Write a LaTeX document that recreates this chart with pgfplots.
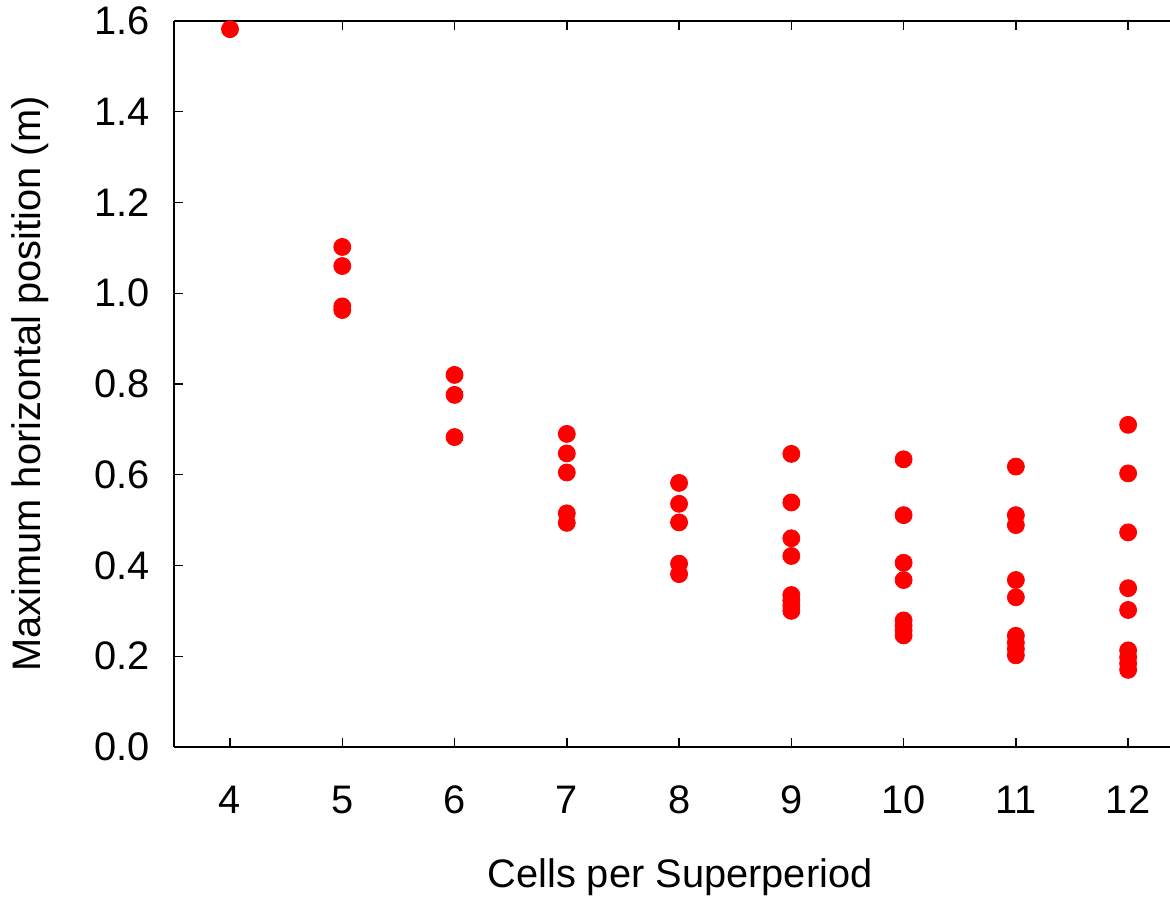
\documentclass[border=0pt]{standalone}
\usepackage{fontspec}
\setmainfont{Liberation Sans}
\usepackage{pgfplots}
\pgfplotsset{compat=1.18}
\begin{document}
\begin{tikzpicture}
\begin{axis}[
  scale only axis,
  width=498pt, height=363pt,
  xmin=3.501, xmax=12.373,
  ymin=0, ymax=1.6,
  axis x line=box,
  axis y line=left,
  axis line style={line width=0.7pt, -},
  xtick={4,5,6,7,8,9,10,11,12},
  ytick={0,0.2,0.4,0.6,0.8,1.0,1.2,1.4,1.6},
  tick align=inside,
  major tick length=4.5pt,
  tick style={line width=0.7pt, black},
  xtick pos=both,
  ytick pos=left,
  font=\fontsize{19.9}{22}\selectfont,
  /pgf/number format/assume math mode=true,
  yticklabel style={/pgf/number format/fixed, /pgf/number format/fixed zerofill, /pgf/number format/precision=1, anchor=east, inner sep=0pt, xshift=-12pt},
  xticklabel style={anchor=center, inner sep=0pt, yshift=-26.5pt},
  every axis x label/.style={at={(axis description cs:0.5,0)}, anchor=center, yshift=-65pt, xshift=4pt},
  every axis y label/.style={at={(axis description cs:-0.1446,0.5)}, anchor=center, rotate=90},
  xlabel={Cells per Superperiod},
  ylabel={Maximum horizontal position (m)},
  clip=false,
]
\addplot[only marks, mark=*, mark size=4.25pt, color=red, mark options={draw=red, fill=red}] coordinates {
(4,1.582)
(5,1.102) (5,1.060) (5,0.971) (5,0.963)
(6,0.820) (6,0.776) (6,0.683)
(7,0.690) (7,0.647) (7,0.605) (7,0.515) (7,0.494)
(8,0.582) (8,0.536) (8,0.495) (8,0.404) (8,0.381)
(9,0.646) (9,0.539) (9,0.460) (9,0.421) (9,0.335) (9,0.323) (9,0.311) (9,0.300)
(10,0.634) (10,0.511) (10,0.406) (10,0.368) (10,0.279) (10,0.268) (10,0.257) (10,0.246)
(11,0.618) (11,0.511) (11,0.489) (11,0.368) (11,0.330) (11,0.245) (11,0.230) (11,0.216) (11,0.202)
(12,0.710) (12,0.603) (12,0.473) (12,0.350) (12,0.302) (12,0.213) (12,0.198) (12,0.184) (12,0.170)
};
\coordinate (sw) at (rel axis cs:0,0);
\end{axis}
\pgfresetboundingbox
\path (sw) ++(-87pt,-76pt) rectangle ++(585pt,449.5pt);
\end{tikzpicture}
\end{document}
